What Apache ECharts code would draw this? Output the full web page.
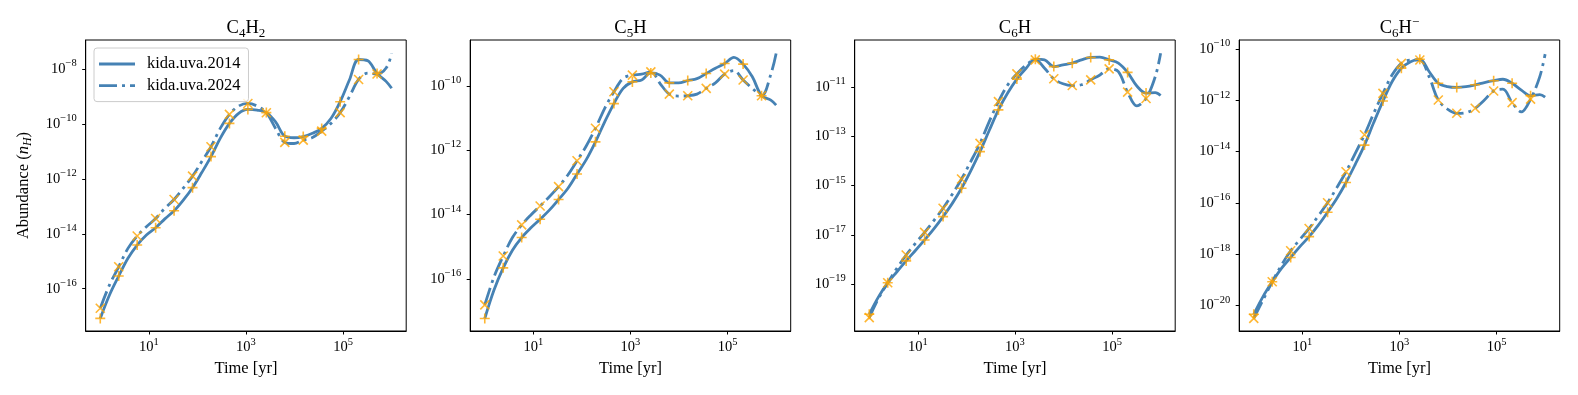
<!DOCTYPE html>
<html>
<head>
<meta charset="utf-8">
<script src="https://cdn.jsdelivr.net/npm/echarts@6/dist/echarts.min.js"></script>
<style>
html,body{margin:0;padding:0;background:#fff}
#main{width:1578px;height:395px}
</style>
</head>
<body>
<div id="main"></div>
<script>
// time grid in years, markers on every second point
var times = [1, 1.549, 2.399, 3.715, 5.754, 8.913, 13.80, 21.38, 33.11, 51.29, 79.43, 123.0, 190.5, 295.1, 457.1, 707.9,
  1096, 1698, 2630, 4074, 6310, 9772, 15136, 23442, 36308, 56234, 87096, 134896, 208930, 323594, 501187, 776247, 1000000];

var c4h2_2014 = [8.3e-18, 5.9e-17, 2.9e-16, 1.29e-15, 3.9e-15, 9.1e-15, 1.66e-14, 3.5e-14, 6.9e-14, 1.7e-13, 4.8e-13, 1.7e-12,
  6.5e-12, 3.0e-11, 1.05e-10, 2.45e-10, 3.4e-10, 3.2e-10, 2.6e-10, 1.2e-10, 3.6e-11, 3.16e-11, 3.5e-11, 4.6e-11, 6.9e-11,
  1.58e-10, 6.5e-10, 4.0e-9, 2.24e-8, 2.0e-8, 6.9e-9, 3.5e-9, 2.0e-9];
var c4h2_2024 = [1.95e-17, 1.38e-16, 6.3e-16, 2.95e-15, 8.3e-15, 1.82e-14, 3.6e-14, 8.5e-14, 1.78e-13, 4.6e-13, 1.26e-12, 4.3e-12,
  1.48e-11, 6.9e-11, 2.24e-10, 4.5e-10, 5.6e-10, 4.5e-10, 2.57e-10, 6.9e-11, 2.14e-11, 1.95e-11, 2.6e-11, 3.2e-11, 5.5e-11,
  1.05e-10, 2.6e-10, 9.8e-10, 4.2e-9, 7.1e-9, 6.6e-9, 1.12e-8, 3.7e-8];

var c5h_2014 = [6.0e-18, 4.6e-17, 2.24e-16, 7.9e-16, 1.95e-15, 3.9e-15, 7.2e-15, 1.38e-14, 2.95e-14, 6.5e-14, 1.82e-13, 5.1e-13,
  1.82e-12, 7.6e-12, 2.8e-11, 8.3e-11, 1.32e-10, 1.51e-10, 2.5e-10, 2.14e-10, 1.23e-10, 1.23e-10, 1.45e-10, 1.66e-10, 2.4e-10,
  3.5e-10, 4.9e-10, 7.6e-10, 4.7e-10, 1.9e-10, 4.9e-11, 3.6e-11, 2.5e-11];
var c5h_2024 = [1.58e-17, 1.17e-16, 5.2e-16, 1.95e-15, 4.8e-15, 9.8e-15, 1.86e-14, 3.6e-14, 7.4e-14, 1.7e-13, 4.7e-13, 1.35e-12,
  4.8e-12, 2.0e-11, 6.5e-11, 1.7e-10, 2.14e-10, 2.3e-10, 2.7e-10, 1.17e-10, 5.5e-11, 4.8e-11, 4.9e-11, 5.5e-11, 8.3e-11,
  1.23e-10, 2.3e-10, 2.95e-10, 1.51e-10, 8.3e-11, 4.9e-11, 2.24e-10, 1.0e-9];

var c6h_2014 = [5.9e-21, 3.0e-20, 1.12e-19, 3.16e-19, 8.7e-19, 2.3e-18, 6.2e-18, 1.74e-17, 5.5e-17, 1.9e-16, 7.8e-16, 4.0e-15,
  2.4e-14, 1.74e-13, 1.2e-12, 5.8e-12, 2.14e-11, 5.9e-11, 1.38e-10, 1.29e-10, 6.9e-11, 8.1e-11, 9.5e-11, 1.29e-10, 1.62e-10,
  1.66e-10, 1.29e-10, 9.5e-11, 4.0e-11, 1.12e-11, 5.8e-12, 6.0e-12, 4.6e-12];
var c6h_2024 = [4.3e-21, 2.6e-20, 1.12e-19, 4.4e-19, 1.51e-18, 4.5e-18, 1.26e-17, 3.8e-17, 1.2e-16, 4.5e-16, 1.86e-15, 9.5e-15,
  5.2e-14, 4.0e-13, 2.6e-12, 1.23e-11, 3.5e-11, 8.1e-11, 1.29e-10, 5.9e-11, 2.2e-11, 1.38e-11, 1.17e-11, 1.26e-11, 2.0e-11,
  3.16e-11, 5.6e-11, 4.3e-11, 6.3e-12, 1.74e-12, 3.5e-12, 2.7e-11, 2.4e-10];

var c6hm_2014 = [4.5e-21, 2.2e-20, 8.3e-20, 2.75e-19, 7.4e-19, 1.95e-18, 4.8e-18, 1.35e-17, 4.3e-17, 1.48e-16, 6.2e-16, 3.16e-15,
  1.78e-14, 1.35e-13, 9.3e-13, 5.4e-12, 1.78e-11, 3.2e-11, 4.0e-11, 1.32e-11, 4.6e-12, 3.4e-12, 3.16e-12, 3.4e-12, 4.0e-12,
  4.9e-12, 5.8e-12, 6.6e-12, 4.6e-12, 2.5e-12, 1.51e-12, 1.66e-12, 1.32e-12];
var c6hm_2024 = [3.1e-21, 1.62e-20, 8.3e-20, 3.7e-19, 1.35e-18, 3.7e-18, 1.0e-17, 3.1e-17, 1.0e-16, 3.9e-16, 1.62e-15, 8.5e-15,
  4.5e-14, 3.1e-13, 1.86e-12, 9.8e-12, 2.75e-11, 3.7e-11, 3.7e-11, 8.3e-12, 1.02e-12, 4.5e-13, 3.1e-13, 3.3e-13, 4.9e-13,
  1.02e-12, 2.3e-12, 2.7e-12, 8.1e-13, 3.5e-13, 1.1e-12, 8.3e-12, 6.3e-11];

var titles = ['{n|C}{d|4}{n|H}{d|2}', '{n|C}{d|5}{n|H}', '{n|C}{d|6}{n|H}', '{n|C}{d|6}{n|H}{u|\u2212}'];
var legendNames = ['kida.uva.2014', 'kida.uva.2024'];
var xTicks = [10, 1000, 100000];
var yTicks = [
  [1e-16, 1e-14, 1e-12, 1e-10, 1e-8],
  [1e-16, 1e-14, 1e-12, 1e-10],
  [1e-19, 1e-17, 1e-15, 1e-13, 1e-11],
  [1e-20, 1e-18, 1e-16, 1e-14, 1e-12, 1e-10]
];
// axis limits as powers of ten
var xLim = [-0.3, 6.3];
var yLim = [[-17.54, -6.94], [-17.61, -8.58], [-20.91, -9.08], [-21.0, -9.65]];
var panelData = [[c4h2_2014, c4h2_2024], [c5h_2014, c5h_2024], [c6h_2014, c6h_2024], [c6hm_2014, c6hm_2024]];

var FONT = "'Liberation Serif', 'DejaVu Serif', serif";
var BLUE = '#4682b4';
var ORANGE = '#ffa500';
var PLUS = 'path://M0,5L10,5M5,0L5,10';
var CROSS = 'path://M0,0L10,10M0,10L10,0';

var gLeft = 85.7, gStep = 384.5, gWidth = 320.5, gTop = 40, gHeight = 291;

var tickRich = {
  b: {fontSize: 14.5, fontFamily: FONT, color: '#000', lineHeight: 18},
  s: {fontSize: 10.5, fontFamily: FONT, color: '#000', padding: [0, 0, 11, 0]}
};
function powLabel(v) {
  var e = Math.round(Math.log10(v));
  return '{b|10}{s|' + (e < 0 ? '\u2212' : '') + Math.abs(e) + '}';
}
function pairs(ys, step) {
  var out = [];
  for (var i = 0; i < ys.length; i += step) {
    if (step > 1 && i > 30) break;
    out.push([times[i], ys[i]]);
  }
  return out;
}

var myChart = echarts.init(document.getElementById('main'));

var grids = [], xAxes = [], yAxes = [], series = [], graphics = [];
for (var p = 0; p < 4; p++) {
  var left = gLeft + gStep * p;
  grids.push({left: left, top: gTop, width: gWidth, height: gHeight, show: true,
    borderColor: '#000', borderWidth: 1, backgroundColor: '#fff', outerBoundsMode: 'none'});
  xAxes.push({
    type: 'log', logBase: 10, gridIndex: p,
    min: Math.pow(10, xLim[0]), max: Math.pow(10, xLim[1]),
    name: 'Time [yr]', nameLocation: 'middle', nameGap: 29.5,
    nameTextStyle: {fontFamily: FONT, fontSize: 16.5, color: '#000'},
    axisLine: {show: true, lineStyle: {color: '#000', width: 1}},
    axisTick: {show: true, length: 3.5, lineStyle: {color: '#000'}, customValues: xTicks},
    axisLabel: {margin: 5.5, customValues: xTicks, formatter: powLabel, rich: tickRich},
    splitLine: {show: false}, minorTick: {show: false}
  });
  var yax = {
    type: 'log', logBase: 10, gridIndex: p,
    min: Math.pow(10, yLim[p][0]), max: Math.pow(10, yLim[p][1]),
    axisLine: {show: true, lineStyle: {color: '#000', width: 1}},
    axisTick: {show: true, length: 3.5, lineStyle: {color: '#000'}, customValues: yTicks[p]},
    axisLabel: {margin: 9, customValues: yTicks[p], formatter: powLabel, rich: tickRich},
    splitLine: {show: false}, minorTick: {show: false}
  };
  if (p === 0) {
    yax.name = '{r|Abundance (}{i|n}{h|H}{r|)}';
    yax.nameLocation = 'middle';
    yax.nameGap = 52;
    yax.nameTextStyle = {rich: {
      r: {fontFamily: FONT, fontSize: 16.5, color: '#000'},
      i: {fontFamily: FONT, fontSize: 16.5, fontStyle: 'italic', color: '#000'},
      h: {fontFamily: FONT, fontSize: 12, fontStyle: 'italic', color: '#000', padding: [9, 0, 0, 0]}
    }};
  }
  yAxes.push(yax);

  // solid (2014) and dash-dot (2024)
  series.push({
    type: 'line', name: legendNames[0], xAxisIndex: p, yAxisIndex: p,
    data: pairs(panelData[p][0], 1), symbol: 'none', smooth: 0.35, color: BLUE,
    lineStyle: {color: BLUE, width: 2.8}, z: 2
  });
  series.push({
    type: 'line', name: legendNames[1], xAxisIndex: p, yAxisIndex: p,
    data: pairs(panelData[p][1], 1), symbol: 'none', smooth: 0.35, color: BLUE,
    lineStyle: {color: BLUE, width: 2.8, type: [18, 5, 3, 5]}, z: 2
  });
  series.push({
    type: 'scatter', name: 'm2014', xAxisIndex: p, yAxisIndex: p,
    data: pairs(panelData[p][0], 2), symbol: PLUS, symbolSize: 10,
    itemStyle: {color: 'rgba(0,0,0,0)', borderColor: ORANGE, borderWidth: 1.6}, z: 3
  });
  series.push({
    type: 'scatter', name: 'm2024', xAxisIndex: p, yAxisIndex: p,
    data: pairs(panelData[p][1], 2), symbol: CROSS, symbolSize: 9,
    itemStyle: {color: 'rgba(0,0,0,0)', borderColor: ORANGE, borderWidth: 1.6}, z: 3
  });

  graphics.push({
    type: 'text', x: left + gWidth / 2, y: 28,
    style: {
      text: titles[p], align: 'center', verticalAlign: 'middle',
      rich: {
        n: {fontFamily: FONT, fontSize: 18.5, fill: '#000'},
        d: {fontFamily: FONT, fontSize: 13, fill: '#000', padding: [11, 0, 0, 0]},
        u: {fontFamily: FONT, fontSize: 13, fill: '#000', padding: [0, 0, 11, 0]}
      }
    }
  });
}

var option = {
  animation: false,
  backgroundColor: '#fff',
  grid: grids,
  xAxis: xAxes,
  yAxis: yAxes,
  legend: {
    orient: 'vertical', left: 94, top: 48,
    padding: [7.5, 8, 7.5, 5], itemGap: 4.6,
    itemWidth: 36, itemHeight: 2.8, symbolKeepAspect: false,
    backgroundColor: 'rgba(255,255,255,0.8)', borderColor: '#cccccc', borderWidth: 1, borderRadius: 3,
    itemStyle: {borderWidth: 0},
    textStyle: {fontFamily: FONT, fontSize: 16.5, color: '#000', lineHeight: 16, padding: [0, 0, 0, 7]},
    data: [
      {name: legendNames[0], icon: 'path://M0,0H36V2.8H0Z'},
      {name: legendNames[1], icon: 'path://M0,0H18V2.8H0Z M23,0H26V2.8H23Z M31,0H36V2.8H31Z'}
    ]
  },
  graphic: graphics,
  series: series
};

myChart.setOption(option);
</script>
</body>
</html>
